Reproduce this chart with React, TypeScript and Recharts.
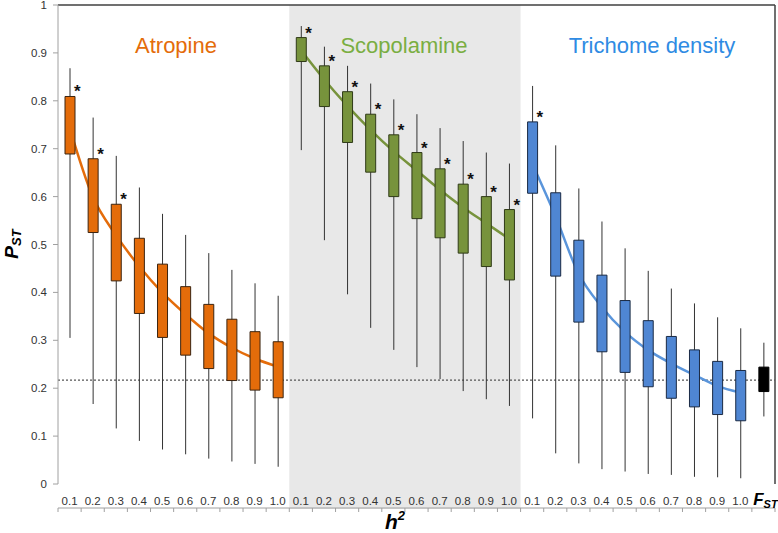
import React from "react";
import {
  ComposedChart,
  Bar,
  Line,
  Cell,
  XAxis,
  YAxis,
  ReferenceArea,
  ReferenceLine,
  LabelList,
} from "recharts";

// heritability steps shown under each group
const hLabels = ["0.1", "0.2", "0.3", "0.4", "0.5", "0.6", "0.7", "0.8", "0.9", "1.0"];

// Atropine
const atrLow = [0.305, 0.167, 0.116, 0.09, 0.072, 0.062, 0.053, 0.047, 0.042, 0.036];
const atrQ1 = [0.689, 0.525, 0.424, 0.356, 0.306, 0.269, 0.241, 0.216, 0.196, 0.18];
const atrQ3 = [0.809, 0.679, 0.584, 0.513, 0.459, 0.412, 0.375, 0.344, 0.318, 0.297];
const atrHigh = [0.868, 0.765, 0.685, 0.619, 0.564, 0.52, 0.482, 0.447, 0.419, 0.393];
const atrCurve = [0.744, 0.6, 0.52, 0.455, 0.4, 0.355, 0.315, 0.285, 0.262, 0.245];
const atrStar = [1, 1, 1, 0, 0, 0, 0, 0, 0, 0];

// Scopolamine
const scoLow = [0.697, 0.509, 0.396, 0.326, 0.28, 0.244, 0.219, 0.194, 0.177, 0.163];
const scoQ1 = [0.882, 0.788, 0.713, 0.651, 0.6, 0.554, 0.514, 0.482, 0.454, 0.426];
const scoQ3 = [0.932, 0.873, 0.819, 0.772, 0.729, 0.692, 0.658, 0.626, 0.6, 0.573];
const scoHigh = [0.956, 0.913, 0.873, 0.836, 0.803, 0.772, 0.743, 0.716, 0.692, 0.669];
const scoCurve = [0.906, 0.845, 0.79, 0.74, 0.695, 0.655, 0.615, 0.578, 0.545, 0.512];
const scoStar = [1, 1, 1, 1, 1, 1, 1, 1, 1, 1];

// Trichome density
const triLow = [0.137, 0.064, 0.043, 0.031, 0.026, 0.021, 0.019, 0.015, 0.014, 0.012];
const triQ1 = [0.607, 0.434, 0.338, 0.276, 0.233, 0.203, 0.179, 0.161, 0.145, 0.132];
const triQ3 = [0.756, 0.608, 0.509, 0.436, 0.383, 0.341, 0.308, 0.28, 0.256, 0.237];
const triHigh = [0.831, 0.707, 0.617, 0.548, 0.492, 0.445, 0.408, 0.377, 0.348, 0.325];
const triCurve = [0.669, 0.56, 0.44, 0.37, 0.318, 0.28, 0.252, 0.228, 0.205, 0.191];
const triStar = [1, 0, 0, 0, 0, 0, 0, 0, 0, 0];

// neutral F_ST box
const fstBox = [0.141, 0.193, 0.244, 0.295];
const fstMean = 0.217;

const yTicks = [0, 0.1, 0.2, 0.3, 0.4, 0.5, 0.6, 0.7, 0.8, 0.9, 1];
const edgeTicks = Array.from({ length: 32 }, (_, i) => i);

const groups = [
  { id: "atr", low: atrLow, q1: atrQ1, q3: atrQ3, high: atrHigh, curve: atrCurve, star: atrStar, fill: "#E46C0A", stroke: "#3b2410" },
  { id: "sco", low: scoLow, q1: scoQ1, q3: scoQ3, high: scoHigh, curve: scoCurve, star: scoStar, fill: "#77933C", stroke: "#2f3a17" },
  { id: "tri", low: triLow, q1: triQ1, q3: triQ3, high: triHigh, curve: triCurve, star: triStar, fill: "#4F86D3", stroke: "#1a2a44" },
];

const rows: any[] = [];
groups.forEach((g) => {
  hLabels.forEach((lab, i) => {
    rows.push({
      key: g.id + i,
      label: lab,
      whisker: [g.low[i], g.high[i]],
      box: [g.q1[i], g.q3[i]],
      fill: g.fill,
      stroke: g.stroke,
      star: g.star[i] ? "*" : "",
      [g.id + "Curve"]: g.curve[i],
    });
  });
});
rows.push({
  key: "fst",
  label: "FST",
  whisker: [fstBox[0], fstBox[3]],
  box: [fstBox[1], fstBox[2]],
  fill: "#000000",
  stroke: "#000000",
  star: "",
});
rows.forEach((r, i) => {
  r.pos = i + 0.5;
});

const WhiskerShape = (props: any) => {
  const { x, y, width, height } = props;
  const cx = x + width / 2;
  const top = Math.min(y, y + height);
  const bot = Math.max(y, y + height);
  return <line x1={cx} x2={cx} y1={top} y2={bot} stroke="#333" strokeWidth={1} />;
};

const StarLabel = (props: any) => {
  const { x, y, width, height, value } = props;
  if (!value) return null;
  const top = Math.min(y, y + height);
  return (
    <text x={x + width - 1} y={top + 1} fontSize={17} fontWeight="bold" fill="#111" fontFamily="Liberation Sans, Arial">
      *
    </text>
  );
};

const CatTick = (props: any) => {
  const { x, y, payload } = props;
  if (payload.value === "fst") {
    return (
      <text x={x + 2} y={y + 21} textAnchor="middle" fill="#000" fontFamily="Liberation Sans, Arial" fontWeight="bold" fontStyle="italic">
        <tspan fontSize={17}>F</tspan>
        <tspan fontSize={11} dy={3}>ST</tspan>
      </text>
    );
  }
  const row = rows.find((r) => r.key === payload.value);
  return (
    <text x={x} y={y + 21} textAnchor="middle" fill="#333" fontSize={11.5} fontFamily="Liberation Sans, Arial">
      {row ? row.label : ""}
    </text>
  );
};

const NoTick = () => <g />;

const yFmt = (v: number) => (v === 0 ? "0" : v === 1 ? "1" : v.toFixed(1));

const font = "Liberation Sans, Arial";

export default function App() {
  return (
    <div style={{ position: "absolute", left: 0, top: 0, width: 778, height: 533 }}>
      <ComposedChart
        width={778}
        height={533}
        data={rows}
        margin={{ top: 5, right: 3, bottom: 24, left: 0 }}
      >
        <XAxis
          xAxisId="edge"
          dataKey="pos"
          type="number"
          domain={[0, 31]}
          ticks={edgeTicks}
          interval={0}
          allowDataOverflow
          tick={NoTick}
          tickSize={4}
          height={1}
          axisLine={{ stroke: "#a0a0a0" }}
          tickLine={{ stroke: "#a0a0a0" }}
        />
        <XAxis
          xAxisId="cat"
          dataKey="key"
          type="category"
          interval={0}
          tick={CatTick}
          tickLine={false}
          axisLine={false}
          tickSize={0}
          tickMargin={0}
          height={24}
        />
        <XAxis xAxisId="w" dataKey="key" type="category" hide />
        <YAxis
          domain={[0, 1]}
          ticks={yTicks}
          interval={0}
          tickFormatter={yFmt}
          width={58}
          tickSize={5}
          tickMargin={6}
          axisLine={{ stroke: "#a0a0a0" }}
          tickLine={{ stroke: "#a0a0a0" }}
          tick={{ fill: "#333", fontSize: 11.5, fontFamily: font }}
        />
        <ReferenceArea
          xAxisId="cat"
          x1="sco0"
          x2="sco9"
          y1={-0.052}
          y2={1}
          fill="#E8E8E8"
          fillOpacity={1}
          stroke="none"
          ifOverflow="visible"
        />
        <ReferenceLine xAxisId="cat" y={1} stroke="#404040" strokeWidth={1.5} />
        <ReferenceLine xAxisId="cat" x="fst" position="end" stroke="#404040" strokeWidth={1.5} />
        <ReferenceLine xAxisId="cat" y={fstMean} stroke="#555" strokeDasharray="2 2" strokeWidth={1.3} />
        <Line xAxisId="cat" dataKey="atrCurve" type="monotone" stroke="#E46C0A" strokeWidth={2.5} dot={false} isAnimationActive={false} />
        <Line xAxisId="cat" dataKey="scoCurve" type="monotone" stroke="#77933C" strokeWidth={2.5} dot={false} isAnimationActive={false} />
        <Line xAxisId="cat" dataKey="triCurve" type="monotone" stroke="#5A95DB" strokeWidth={2.5} dot={false} isAnimationActive={false} />
        <Bar xAxisId="w" dataKey="whisker" barSize={2} shape={WhiskerShape} zIndex={450} isAnimationActive={false} />
        <Bar xAxisId="cat" dataKey="box" barSize={10} zIndex={460} isAnimationActive={false}>
          {rows.map((r) => (
            <Cell key={r.key} fill={r.fill} stroke={r.stroke} strokeWidth={1} />
          ))}
          <LabelList dataKey="star" content={StarLabel} />
        </Bar>
      </ComposedChart>
      <svg
        width={778}
        height={533}
        style={{ position: "absolute", left: 0, top: 0, pointerEvents: "none" }}
      >
        <text x={176} y={53} textAnchor="middle" fontSize={22} fill="#E46C0A" fontFamily={font}>
          Atropine
        </text>
        <text x={404} y={53} textAnchor="middle" fontSize={22} fill="#7AAE42" fontFamily={font}>
          Scopolamine
        </text>
        <text x={652} y={53} textAnchor="middle" fontSize={22} fill="#2F8BE3" fontFamily={font}>
          Trichome density
        </text>
        <text
          x={18}
          y={244}
          transform="rotate(-90 18 244)"
          textAnchor="middle"
          fontWeight="bold"
          fontStyle="italic"
          fontFamily={font}
          fill="#000"
        >
          <tspan fontSize={19}>P</tspan>
          <tspan fontSize={13} dy={3}>ST</tspan>
        </text>
        <text x={395} y={529} textAnchor="middle" fontWeight="bold" fontStyle="italic" fontFamily={font} fill="#000">
          <tspan fontSize={21}>h</tspan>
          <tspan fontSize={13} dy={-9}>2</tspan>
        </text>
      </svg>
    </div>
  );
}
